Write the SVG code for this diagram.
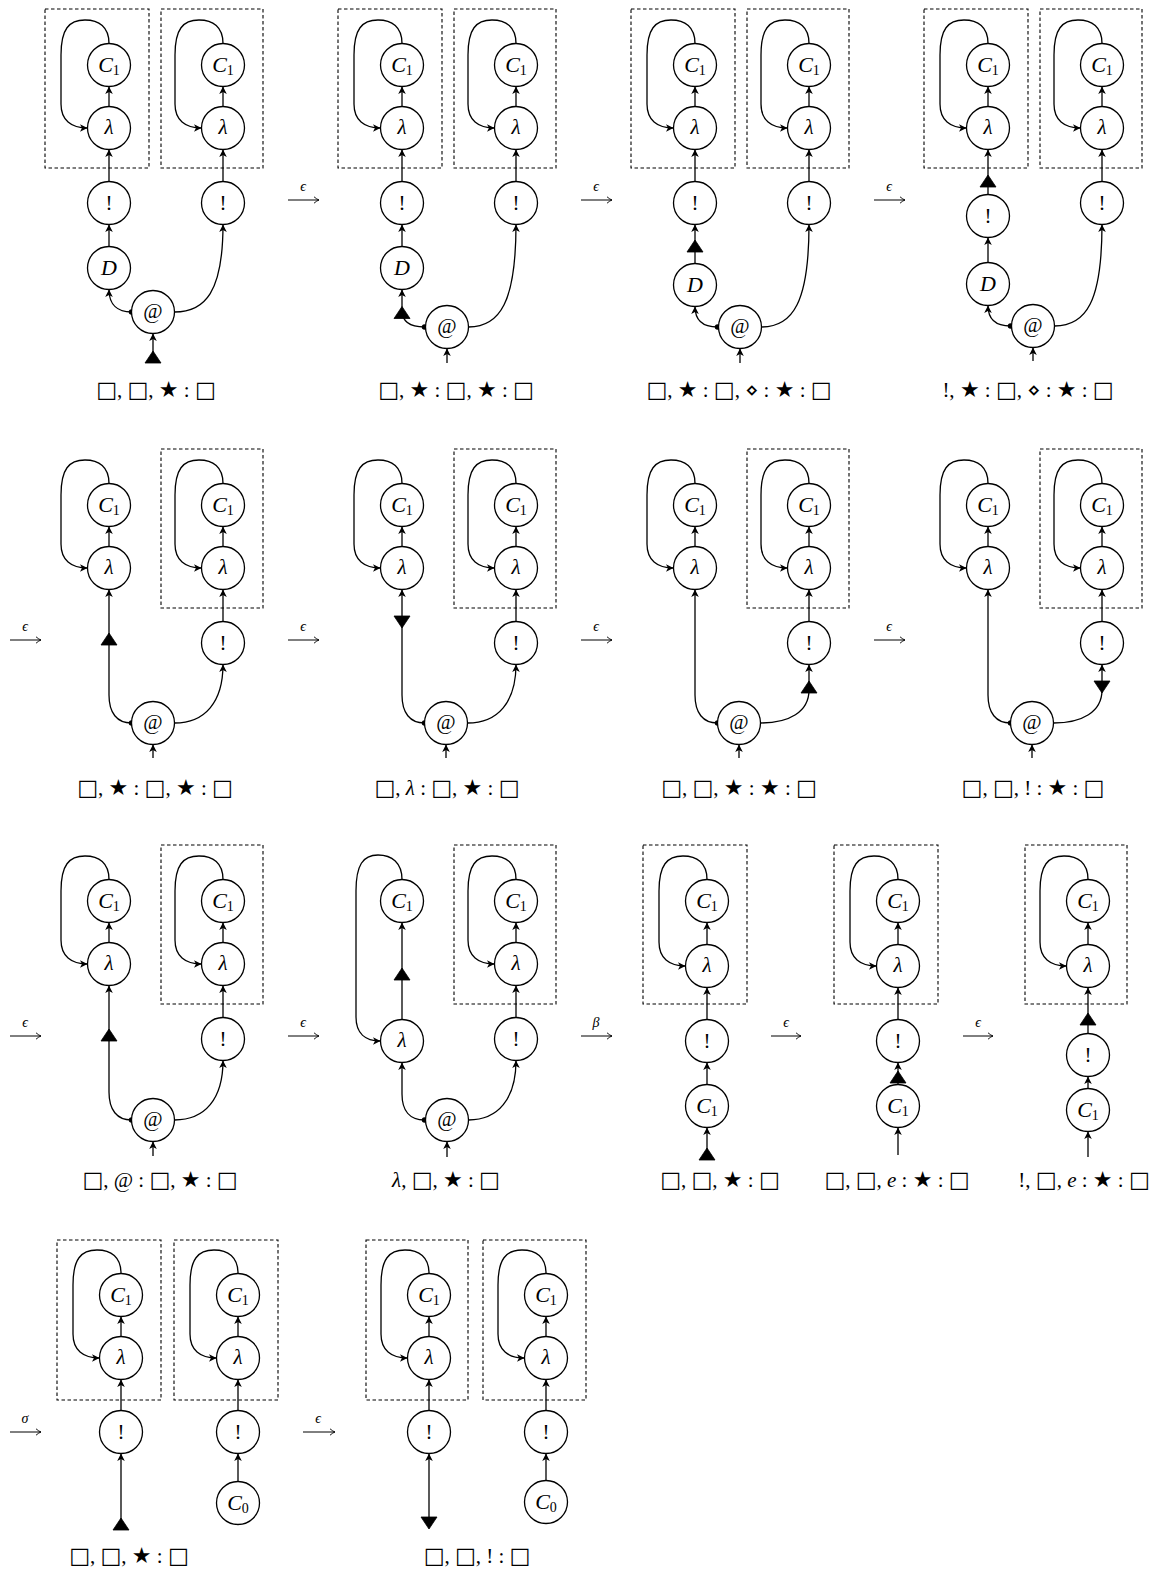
<svg xmlns="http://www.w3.org/2000/svg" width="1150" height="1572" viewBox="0 0 1150 1572">
<style>
.bg{fill:#fff}
.n{fill:#fff;stroke:#000;stroke-width:1.3}
.e{fill:none;stroke:#000;stroke-width:1.3;marker-end:url(#ah)}
.bx{fill:none;stroke:#000;stroke-width:1.1;stroke-dasharray:3.5 2.5}
.tri{fill:#000;stroke:#000;stroke-width:0.8;stroke-linejoin:round}
.dot{fill:#000}
.t{fill:none;stroke:#000;stroke-width:1;marker-end:url(#ta)}
.nt{font-family:"Liberation Serif","DejaVu Serif",serif;font-size:21px;text-anchor:middle;fill:#000}
.it{font-style:italic}
.cc{font-size:22px}
.sub{font-size:14px;font-style:normal}
.lb{font-family:"Liberation Serif","DejaVu Serif",serif;font-size:21px;text-anchor:middle;fill:#000}
.sy{font-family:"DejaVu Sans",sans-serif;font-size:22px}
.tl{font-family:"Liberation Serif","DejaVu Serif",serif;font-size:14px;font-style:italic;text-anchor:middle;fill:#000}
</style>
<defs>
<marker id="ah" viewBox="-9 -5 10 10" refX="0" refY="0" markerWidth="10" markerHeight="10" markerUnits="userSpaceOnUse" orient="auto"><path d="M0,0 L-7.5,-3.8 L-5.5,0 L-7.5,3.8 Z" fill="#000"/></marker>
<marker id="ta" viewBox="-7 -5 8 10" refX="0" refY="0" markerWidth="8" markerHeight="10" markerUnits="userSpaceOnUse" orient="auto"><path d="M-5,-3.2 Q-2,-0.6 0,0 Q-2,0.6 -5,3.2" fill="none" stroke="#000" stroke-width="0.9"/></marker>
</defs>
<rect class="bg" x="0" y="0" width="1150" height="1572"/>

<g id="transitions">
<path class="t" d="M288,200 H319"/><text class="tl" x="303" y="191">ϵ</text>
<path class="t" d="M581,200 H612"/><text class="tl" x="596" y="191">ϵ</text>
<path class="t" d="M874,200 H905"/><text class="tl" x="889" y="191">ϵ</text>
<path class="t" d="M10,640 H41"/><text class="tl" x="25" y="631">ϵ</text>
<path class="t" d="M288,640 H319"/><text class="tl" x="303" y="631">ϵ</text>
<path class="t" d="M581,640 H612"/><text class="tl" x="596" y="631">ϵ</text>
<path class="t" d="M874,640 H905"/><text class="tl" x="889" y="631">ϵ</text>
<path class="t" d="M10,1036 H41"/><text class="tl" x="25" y="1027">ϵ</text>
<path class="t" d="M288,1036 H319"/><text class="tl" x="303" y="1027">ϵ</text>
<path class="t" d="M581,1036 H612"/><text class="tl" x="596" y="1027">β</text>
<path class="t" d="M771,1036 H801"/><text class="tl" x="786" y="1027">ϵ</text>
<path class="t" d="M963,1036 H993"/><text class="tl" x="978" y="1027">ϵ</text>
<path class="t" d="M10,1432 H41"/><text class="tl" x="25" y="1423">σ</text>
<path class="t" d="M303,1432 H335"/><text class="tl" x="318" y="1423">ϵ</text>
</g>

<g id="r1p1">
<rect class="bx" x="45" y="9" width="104" height="159"/>
<rect class="bx" x="161" y="9" width="102" height="159"/>
<g id="r1p1-edges">
<path class="e" d="M109,43.5 C109,27 99,20 85,20 C69,20 61,29 61,55 L61,104 C61,120 71,128 87.5,128"/>
<path class="e" d="M223,43.5 C223,27 213,20 199,20 C183,20 175,29 175,55 L175,104 C175,120 185,128 201.5,128"/>
<path class="e" d="M109,106.5 V86.5"/><path class="e" d="M223,106.5 V86.5"/>
<path class="e" d="M109,181.5 V149.5"/><path class="e" d="M223,181.5 V149.5"/>
<path class="e" d="M109,246.5 V224.5"/>
<path class="e" d="M131.5,312 C118,312 109,305 109,289.5"/>
<path class="e" d="M174.5,312 C205,312 223,292 223,224.5"/>
<path class="e" d="M153,362 V333.5"/>
<circle class="dot" cx="131.5" cy="312" r="2.7"/>
<path class="tri" d="M153,351 L161,363 L145,363 Z"/>
</g>
<g id="r1p1-c1a"><circle class="n" cx="109" cy="65" r="21.5"/><text class="nt" x="109" y="72"><tspan class="it cc">C</tspan><tspan class="sub" dy="3">1</tspan></text></g>
<g id="r1p1-la"><circle class="n" cx="109" cy="128" r="21.5"/><text class="nt it" x="109" y="134">λ</text></g>
<g id="r1p1-ba"><circle class="n" cx="109" cy="203" r="21.5"/><text class="nt" x="109" y="210">!</text></g>
<g id="r1p1-d"><circle class="n" cx="109" cy="268" r="21.5"/><text class="nt it cc" x="109" y="275">D</text></g>
<g id="r1p1-at"><circle class="n" cx="153" cy="312" r="21.5"/><text class="nt" x="153" y="318" font-size="18">@</text></g>
<g id="r1p1-c1b"><circle class="n" cx="223" cy="65" r="21.5"/><text class="nt" x="223" y="72"><tspan class="it cc">C</tspan><tspan class="sub" dy="3">1</tspan></text></g>
<g id="r1p1-lb"><circle class="n" cx="223" cy="128" r="21.5"/><text class="nt it" x="223" y="134">λ</text></g>
<g id="r1p1-bb"><circle class="n" cx="223" cy="203" r="21.5"/><text class="nt" x="223" y="210">!</text></g>
<text class="lb" x="156" y="397"><tspan class="sy">□</tspan>, <tspan class="sy">□</tspan>, <tspan class="sy">★</tspan> : <tspan class="sy">□</tspan></text>
</g>

<g id="r1p2" transform="translate(293,0)">
<rect class="bx" x="45" y="9" width="104" height="159"/>
<rect class="bx" x="161" y="9" width="102" height="159"/>
<g id="r1p2-edges">
<path class="e" d="M109,43.5 C109,27 99,20 85,20 C69,20 61,29 61,55 L61,104 C61,120 71,128 87.5,128"/>
<path class="e" d="M223,43.5 C223,27 213,20 199,20 C183,20 175,29 175,55 L175,104 C175,120 185,128 201.5,128"/>
<path class="e" d="M109,106.5 V86.5"/><path class="e" d="M223,106.5 V86.5"/>
<path class="e" d="M109,181.5 V149.5"/><path class="e" d="M223,181.5 V149.5"/>
<path class="e" d="M109,246.5 V224.5"/>
<path class="e" d="M131.5,327 C117,327 109,321 109,310 V289.5"/>
<path class="e" d="M175.5,327 C207,327 223,302 223,224.5"/>
<path class="e" d="M154,363 V348.5"/>
<circle class="dot" cx="131.5" cy="327" r="2.7"/>
<path class="tri" d="M109,306.5 L117,318.5 L101,318.5 Z"/>
</g>
<g id="r1p2-c1a"><circle class="n" cx="109" cy="65" r="21.5"/><text class="nt" x="109" y="72"><tspan class="it cc">C</tspan><tspan class="sub" dy="3">1</tspan></text></g>
<g id="r1p2-la"><circle class="n" cx="109" cy="128" r="21.5"/><text class="nt it" x="109" y="134">λ</text></g>
<g id="r1p2-ba"><circle class="n" cx="109" cy="203" r="21.5"/><text class="nt" x="109" y="210">!</text></g>
<g id="r1p2-d"><circle class="n" cx="109" cy="268" r="21.5"/><text class="nt it cc" x="109" y="275">D</text></g>
<g id="r1p2-at"><circle class="n" cx="154" cy="327" r="21.5"/><text class="nt" x="154" y="333" font-size="18">@</text></g>
<g id="r1p2-c1b"><circle class="n" cx="223" cy="65" r="21.5"/><text class="nt" x="223" y="72"><tspan class="it cc">C</tspan><tspan class="sub" dy="3">1</tspan></text></g>
<g id="r1p2-lb"><circle class="n" cx="223" cy="128" r="21.5"/><text class="nt it" x="223" y="134">λ</text></g>
<g id="r1p2-bb"><circle class="n" cx="223" cy="203" r="21.5"/><text class="nt" x="223" y="210">!</text></g>
<text class="lb" x="163" y="397"><tspan class="sy">□</tspan>, <tspan class="sy">★</tspan> : <tspan class="sy">□</tspan>, <tspan class="sy">★</tspan> : <tspan class="sy">□</tspan></text>
</g>

<g id="r1p3" transform="translate(586,0)">
<rect class="bx" x="45" y="9" width="104" height="159"/>
<rect class="bx" x="161" y="9" width="102" height="159"/>
<g id="r1p3-edges">
<path class="e" d="M109,43.5 C109,27 99,20 85,20 C69,20 61,29 61,55 L61,104 C61,120 71,128 87.5,128"/>
<path class="e" d="M223,43.5 C223,27 213,20 199,20 C183,20 175,29 175,55 L175,104 C175,120 185,128 201.5,128"/>
<path class="e" d="M109,106.5 V86.5"/><path class="e" d="M223,106.5 V86.5"/>
<path class="e" d="M109,181.5 V149.5"/><path class="e" d="M223,181.5 V149.5"/>
<path class="e" d="M109,263.5 V224.5"/>
<path class="e" d="M131.5,327 C117,327 109,320 109,306.5"/>
<path class="e" d="M175.5,327 C207,327 223,302 223,224.5"/>
<path class="e" d="M154,363 V348.5"/>
<circle class="dot" cx="131.5" cy="327" r="2.7"/>
<path class="tri" d="M109,240 L117,252 L101,252 Z"/>
</g>
<g id="r1p3-c1a"><circle class="n" cx="109" cy="65" r="21.5"/><text class="nt" x="109" y="72"><tspan class="it cc">C</tspan><tspan class="sub" dy="3">1</tspan></text></g>
<g id="r1p3-la"><circle class="n" cx="109" cy="128" r="21.5"/><text class="nt it" x="109" y="134">λ</text></g>
<g id="r1p3-ba"><circle class="n" cx="109" cy="203" r="21.5"/><text class="nt" x="109" y="210">!</text></g>
<g id="r1p3-d"><circle class="n" cx="109" cy="285" r="21.5"/><text class="nt it cc" x="109" y="292">D</text></g>
<g id="r1p3-at"><circle class="n" cx="154" cy="327" r="21.5"/><text class="nt" x="154" y="333" font-size="18">@</text></g>
<g id="r1p3-c1b"><circle class="n" cx="223" cy="65" r="21.5"/><text class="nt" x="223" y="72"><tspan class="it cc">C</tspan><tspan class="sub" dy="3">1</tspan></text></g>
<g id="r1p3-lb"><circle class="n" cx="223" cy="128" r="21.5"/><text class="nt it" x="223" y="134">λ</text></g>
<g id="r1p3-bb"><circle class="n" cx="223" cy="203" r="21.5"/><text class="nt" x="223" y="210">!</text></g>
<text class="lb" x="153" y="397"><tspan class="sy">□</tspan>, <tspan class="sy">★</tspan> : <tspan class="sy">□</tspan>, ⋄ : <tspan class="sy">★</tspan> : <tspan class="sy">□</tspan></text>
</g>

<g id="r1p4" transform="translate(879,0)">
<rect class="bx" x="45" y="9" width="104" height="159"/>
<rect class="bx" x="161" y="9" width="102" height="159"/>
<g id="r1p4-edges">
<path class="e" d="M109,43.5 C109,27 99,20 85,20 C69,20 61,29 61,55 L61,104 C61,120 71,128 87.5,128"/>
<path class="e" d="M223,43.5 C223,27 213,20 199,20 C183,20 175,29 175,55 L175,104 C175,120 185,128 201.5,128"/>
<path class="e" d="M109,106.5 V86.5"/><path class="e" d="M223,106.5 V86.5"/>
<path class="e" d="M109,194.5 V149.5"/><path class="e" d="M223,181.5 V149.5"/>
<path class="e" d="M109,262.5 V237.5"/>
<path class="e" d="M131.5,326 C117,326 109,319 109,305.5"/>
<path class="e" d="M175.5,326 C207,326 223,302 223,224.5"/>
<path class="e" d="M154,361 V347.5"/>
<circle class="dot" cx="131.5" cy="326" r="2.7"/>
<path class="tri" d="M109,175 L117,187 L101,187 Z"/>
</g>
<g id="r1p4-c1a"><circle class="n" cx="109" cy="65" r="21.5"/><text class="nt" x="109" y="72"><tspan class="it cc">C</tspan><tspan class="sub" dy="3">1</tspan></text></g>
<g id="r1p4-la"><circle class="n" cx="109" cy="128" r="21.5"/><text class="nt it" x="109" y="134">λ</text></g>
<g id="r1p4-ba"><circle class="n" cx="109" cy="216" r="21.5"/><text class="nt" x="109" y="223">!</text></g>
<g id="r1p4-d"><circle class="n" cx="109" cy="284" r="21.5"/><text class="nt it cc" x="109" y="291">D</text></g>
<g id="r1p4-at"><circle class="n" cx="154" cy="326" r="21.5"/><text class="nt" x="154" y="332" font-size="18">@</text></g>
<g id="r1p4-c1b"><circle class="n" cx="223" cy="65" r="21.5"/><text class="nt" x="223" y="72"><tspan class="it cc">C</tspan><tspan class="sub" dy="3">1</tspan></text></g>
<g id="r1p4-lb"><circle class="n" cx="223" cy="128" r="21.5"/><text class="nt it" x="223" y="134">λ</text></g>
<g id="r1p4-bb"><circle class="n" cx="223" cy="203" r="21.5"/><text class="nt" x="223" y="210">!</text></g>
<text class="lb" x="149" y="397">!, <tspan class="sy">★</tspan> : <tspan class="sy">□</tspan>, ⋄ : <tspan class="sy">★</tspan> : <tspan class="sy">□</tspan></text>
</g>

<g id="r2p1" transform="translate(0,440)">
<rect class="bx" x="161" y="9" width="102" height="159"/>
<g id="r2p1-edges">
<path class="e" d="M109,43.5 C109,27 99,20 85,20 C69,20 61,29 61,55 L61,104 C61,120 71,128 87.5,128"/>
<path class="e" d="M223,43.5 C223,27 213,20 199,20 C183,20 175,29 175,55 L175,104 C175,120 185,128 201.5,128"/>
<path class="e" d="M109,106.5 V86.5"/><path class="e" d="M223,106.5 V86.5"/>
<path class="e" d="M223,181.5 V149.5"/>
<path class="e" d="M131.5,283 C117,283 109,273 109,255 V149.5"/>
<path class="e" d="M174.5,283 C205,283 223,262 223,224.5"/>
<path class="e" d="M153,318 V304.5"/>
<circle class="dot" cx="131.5" cy="283" r="2.7"/>
<path class="tri" d="M109,193 L117,205 L101,205 Z"/>
</g>
<g id="r2p1-c1a"><circle class="n" cx="109" cy="65" r="21.5"/><text class="nt" x="109" y="72"><tspan class="it cc">C</tspan><tspan class="sub" dy="3">1</tspan></text></g>
<g id="r2p1-la"><circle class="n" cx="109" cy="128" r="21.5"/><text class="nt it" x="109" y="134">λ</text></g>
<g id="r2p1-at"><circle class="n" cx="153" cy="283" r="21.5"/><text class="nt" x="153" y="289" font-size="18">@</text></g>
<g id="r2p1-c1b"><circle class="n" cx="223" cy="65" r="21.5"/><text class="nt" x="223" y="72"><tspan class="it cc">C</tspan><tspan class="sub" dy="3">1</tspan></text></g>
<g id="r2p1-lb"><circle class="n" cx="223" cy="128" r="21.5"/><text class="nt it" x="223" y="134">λ</text></g>
<g id="r2p1-bb"><circle class="n" cx="223" cy="203" r="21.5"/><text class="nt" x="223" y="210">!</text></g>
<text class="lb" x="155" y="355"><tspan class="sy">□</tspan>, <tspan class="sy">★</tspan> : <tspan class="sy">□</tspan>, <tspan class="sy">★</tspan> : <tspan class="sy">□</tspan></text>
</g>

<g id="r2p2" transform="translate(293,440)">
<rect class="bx" x="161" y="9" width="102" height="159"/>
<g id="r2p2-edges">
<path class="e" d="M109,43.5 C109,27 99,20 85,20 C69,20 61,29 61,55 L61,104 C61,120 71,128 87.5,128"/>
<path class="e" d="M223,43.5 C223,27 213,20 199,20 C183,20 175,29 175,55 L175,104 C175,120 185,128 201.5,128"/>
<path class="e" d="M109,106.5 V86.5"/><path class="e" d="M223,106.5 V86.5"/>
<path class="e" d="M223,181.5 V149.5"/>
<path class="e" d="M131.5,283 C117,283 109,273 109,255 V149.5"/>
<path class="e" d="M174.5,283 C205,283 223,262 223,224.5"/>
<path class="e" d="M153,318 V304.5"/>
<circle class="dot" cx="131.5" cy="283" r="2.7"/>
<path class="tri" d="M101,176 L117,176 L109,188 Z"/>
</g>
<g id="r2p2-c1a"><circle class="n" cx="109" cy="65" r="21.5"/><text class="nt" x="109" y="72"><tspan class="it cc">C</tspan><tspan class="sub" dy="3">1</tspan></text></g>
<g id="r2p2-la"><circle class="n" cx="109" cy="128" r="21.5"/><text class="nt it" x="109" y="134">λ</text></g>
<g id="r2p2-at"><circle class="n" cx="153" cy="283" r="21.5"/><text class="nt" x="153" y="289" font-size="18">@</text></g>
<g id="r2p2-c1b"><circle class="n" cx="223" cy="65" r="21.5"/><text class="nt" x="223" y="72"><tspan class="it cc">C</tspan><tspan class="sub" dy="3">1</tspan></text></g>
<g id="r2p2-lb"><circle class="n" cx="223" cy="128" r="21.5"/><text class="nt it" x="223" y="134">λ</text></g>
<g id="r2p2-bb"><circle class="n" cx="223" cy="203" r="21.5"/><text class="nt" x="223" y="210">!</text></g>
<text class="lb" x="154" y="355"><tspan class="sy">□</tspan>, <tspan class="it">λ</tspan> : <tspan class="sy">□</tspan>, <tspan class="sy">★</tspan> : <tspan class="sy">□</tspan></text>
</g>

<g id="r2p3" transform="translate(586,440)">
<rect class="bx" x="161" y="9" width="102" height="159"/>
<g id="r2p3-edges">
<path class="e" d="M109,43.5 C109,27 99,20 85,20 C69,20 61,29 61,55 L61,104 C61,120 71,128 87.5,128"/>
<path class="e" d="M223,43.5 C223,27 213,20 199,20 C183,20 175,29 175,55 L175,104 C175,120 185,128 201.5,128"/>
<path class="e" d="M109,106.5 V86.5"/><path class="e" d="M223,106.5 V86.5"/>
<path class="e" d="M223,181.5 V149.5"/>
<path class="e" d="M131.5,283 C117,283 109,273 109,255 V149.5"/>
<path class="e" d="M174.5,283 C203,283 223,272 223,250 V224.5"/>
<path class="e" d="M153,318 V304.5"/>
<circle class="dot" cx="131.5" cy="283" r="2.7"/>
<path class="tri" d="M223,241 L231,253 L215,253 Z"/>
</g>
<g id="r2p3-c1a"><circle class="n" cx="109" cy="65" r="21.5"/><text class="nt" x="109" y="72"><tspan class="it cc">C</tspan><tspan class="sub" dy="3">1</tspan></text></g>
<g id="r2p3-la"><circle class="n" cx="109" cy="128" r="21.5"/><text class="nt it" x="109" y="134">λ</text></g>
<g id="r2p3-at"><circle class="n" cx="153" cy="283" r="21.5"/><text class="nt" x="153" y="289" font-size="18">@</text></g>
<g id="r2p3-c1b"><circle class="n" cx="223" cy="65" r="21.5"/><text class="nt" x="223" y="72"><tspan class="it cc">C</tspan><tspan class="sub" dy="3">1</tspan></text></g>
<g id="r2p3-lb"><circle class="n" cx="223" cy="128" r="21.5"/><text class="nt it" x="223" y="134">λ</text></g>
<g id="r2p3-bb"><circle class="n" cx="223" cy="203" r="21.5"/><text class="nt" x="223" y="210">!</text></g>
<text class="lb" x="153" y="355"><tspan class="sy">□</tspan>, <tspan class="sy">□</tspan>, <tspan class="sy">★</tspan> : <tspan class="sy">★</tspan> : <tspan class="sy">□</tspan></text>
</g>

<g id="r2p4" transform="translate(879,440)">
<rect class="bx" x="161" y="9" width="102" height="159"/>
<g id="r2p4-edges">
<path class="e" d="M109,43.5 C109,27 99,20 85,20 C69,20 61,29 61,55 L61,104 C61,120 71,128 87.5,128"/>
<path class="e" d="M223,43.5 C223,27 213,20 199,20 C183,20 175,29 175,55 L175,104 C175,120 185,128 201.5,128"/>
<path class="e" d="M109,106.5 V86.5"/><path class="e" d="M223,106.5 V86.5"/>
<path class="e" d="M223,181.5 V149.5"/>
<path class="e" d="M131.5,283 C117,283 109,273 109,255 V149.5"/>
<path class="e" d="M174.5,283 C203,283 223,272 223,250 V224.5"/>
<path class="e" d="M153,318 V304.5"/>
<circle class="dot" cx="131.5" cy="283" r="2.7"/>
<path class="tri" d="M215,241 L231,241 L223,253 Z"/>
</g>
<g id="r2p4-c1a"><circle class="n" cx="109" cy="65" r="21.5"/><text class="nt" x="109" y="72"><tspan class="it cc">C</tspan><tspan class="sub" dy="3">1</tspan></text></g>
<g id="r2p4-la"><circle class="n" cx="109" cy="128" r="21.5"/><text class="nt it" x="109" y="134">λ</text></g>
<g id="r2p4-at"><circle class="n" cx="153" cy="283" r="21.5"/><text class="nt" x="153" y="289" font-size="18">@</text></g>
<g id="r2p4-c1b"><circle class="n" cx="223" cy="65" r="21.5"/><text class="nt" x="223" y="72"><tspan class="it cc">C</tspan><tspan class="sub" dy="3">1</tspan></text></g>
<g id="r2p4-lb"><circle class="n" cx="223" cy="128" r="21.5"/><text class="nt it" x="223" y="134">λ</text></g>
<g id="r2p4-bb"><circle class="n" cx="223" cy="203" r="21.5"/><text class="nt" x="223" y="210">!</text></g>
<text class="lb" x="154" y="355"><tspan class="sy">□</tspan>, <tspan class="sy">□</tspan>, ! : <tspan class="sy">★</tspan> : <tspan class="sy">□</tspan></text>
</g>

<g id="r3p1" transform="translate(0,836)">
<rect class="bx" x="161" y="9" width="102" height="159"/>
<g id="r3p1-edges">
<path class="e" d="M109,43.5 C109,27 99,20 85,20 C69,20 61,29 61,55 L61,104 C61,120 71,128 87.5,128"/>
<path class="e" d="M223,43.5 C223,27 213,20 199,20 C183,20 175,29 175,55 L175,104 C175,120 185,128 201.5,128"/>
<path class="e" d="M109,106.5 V86.5"/><path class="e" d="M223,106.5 V86.5"/>
<path class="e" d="M223,181.5 V149.5"/>
<path class="e" d="M131.5,284 C117,284 109,274 109,256 V149.5"/>
<path class="e" d="M174.5,284 C205,284 223,263 223,224.5"/>
<path class="e" d="M153,320 V305.5"/>
<circle class="dot" cx="131.5" cy="284" r="2.7"/>
<path class="tri" d="M109,193 L117,205 L101,205 Z"/>
</g>
<g id="r3p1-c1a"><circle class="n" cx="109" cy="65" r="21.5"/><text class="nt" x="109" y="72"><tspan class="it cc">C</tspan><tspan class="sub" dy="3">1</tspan></text></g>
<g id="r3p1-la"><circle class="n" cx="109" cy="128" r="21.5"/><text class="nt it" x="109" y="134">λ</text></g>
<g id="r3p1-at"><circle class="n" cx="153" cy="284" r="21.5"/><text class="nt" x="153" y="290" font-size="18">@</text></g>
<g id="r3p1-c1b"><circle class="n" cx="223" cy="65" r="21.5"/><text class="nt" x="223" y="72"><tspan class="it cc">C</tspan><tspan class="sub" dy="3">1</tspan></text></g>
<g id="r3p1-lb"><circle class="n" cx="223" cy="128" r="21.5"/><text class="nt it" x="223" y="134">λ</text></g>
<g id="r3p1-bb"><circle class="n" cx="223" cy="203" r="21.5"/><text class="nt" x="223" y="210">!</text></g>
<text class="lb" x="160" y="351"><tspan class="sy">□</tspan>, @ : <tspan class="sy">□</tspan>, <tspan class="sy">★</tspan> : <tspan class="sy">□</tspan></text>
</g>

<g id="r3p2" transform="translate(293,836)">
<rect class="bx" x="161" y="9" width="102" height="159"/>
<g id="r3p2-edges">
<path class="e" d="M109,43.5 C109,27 99,19 85,19 C70,19 63,29 63,55 L63,181 C63,197 72,205 87.5,205"/>
<path class="e" d="M223,43.5 C223,27 213,20 199,20 C183,20 175,29 175,55 L175,104 C175,120 185,128 201.5,128"/>
<path class="e" d="M109,183.5 V86.5"/><path class="e" d="M223,106.5 V86.5"/>
<path class="e" d="M223,181.5 V149.5"/>
<path class="e" d="M131.5,284 C117,284 109,275 109,258 V226.5"/>
<path class="e" d="M175.5,284 C205,284 223,263 223,224.5"/>
<path class="e" d="M154,321 V305.5"/>
<circle class="dot" cx="131.5" cy="284" r="2.7"/>
<path class="tri" d="M109,132 L117,144 L101,144 Z"/>
</g>
<g id="r3p2-c1a"><circle class="n" cx="109" cy="65" r="21.5"/><text class="nt" x="109" y="72"><tspan class="it cc">C</tspan><tspan class="sub" dy="3">1</tspan></text></g>
<g id="r3p2-la"><circle class="n" cx="109" cy="205" r="21.5"/><text class="nt it" x="109" y="211">λ</text></g>
<g id="r3p2-at"><circle class="n" cx="154" cy="284" r="21.5"/><text class="nt" x="154" y="290" font-size="18">@</text></g>
<g id="r3p2-c1b"><circle class="n" cx="223" cy="65" r="21.5"/><text class="nt" x="223" y="72"><tspan class="it cc">C</tspan><tspan class="sub" dy="3">1</tspan></text></g>
<g id="r3p2-lb"><circle class="n" cx="223" cy="128" r="21.5"/><text class="nt it" x="223" y="134">λ</text></g>
<g id="r3p2-bb"><circle class="n" cx="223" cy="203" r="21.5"/><text class="nt" x="223" y="210">!</text></g>
<text class="lb" x="153" y="351"><tspan class="it">λ</tspan>, <tspan class="sy">□</tspan>, <tspan class="sy">★</tspan> : <tspan class="sy">□</tspan></text>
</g>

<g id="r3p3">
<rect class="bx" x="643" y="845" width="104" height="159"/>
<g id="r3p3-edges">
<path class="e" d="M707,879.5 C707,863 697,856 683,856 C667,856 659,865 659,891 L659,942 C659,958 669,966 685.5,966"/>
<path class="e" d="M707,944.5 V922.5"/>
<path class="e" d="M707,1019.5 V987.5"/>
<path class="e" d="M707,1084.5 V1062.5"/>
<path class="e" d="M707,1160 V1127.5"/>
<path class="tri" d="M707,1148 L715,1160 L699,1160 Z"/>
</g>
<g id="r3p3-c1"><circle class="n" cx="707" cy="901" r="21.5"/><text class="nt" x="707" y="908"><tspan class="it cc">C</tspan><tspan class="sub" dy="3">1</tspan></text></g>
<g id="r3p3-l"><circle class="n" cx="707" cy="966" r="21.5"/><text class="nt it" x="707" y="972">λ</text></g>
<g id="r3p3-b"><circle class="n" cx="707" cy="1041" r="21.5"/><text class="nt" x="707" y="1048">!</text></g>
<g id="r3p3-c1l"><circle class="n" cx="707" cy="1106" r="21.5"/><text class="nt" x="707" y="1113"><tspan class="it cc">C</tspan><tspan class="sub" dy="3">1</tspan></text></g>
<text class="lb" x="720" y="1187"><tspan class="sy">□</tspan>, <tspan class="sy">□</tspan>, <tspan class="sy">★</tspan> : <tspan class="sy">□</tspan></text>
</g>

<g id="r3p4">
<rect class="bx" x="834" y="845" width="104" height="159"/>
<g id="r3p4-edges">
<path class="e" d="M898,879.5 C898,863 888,856 874,856 C858,856 850,865 850,891 L850,942 C850,958 860,966 876.5,966"/>
<path class="e" d="M898,944.5 V922.5"/>
<path class="e" d="M898,1019.5 V987.5"/>
<path class="e" d="M898,1084.5 V1062.5"/>
<path class="e" d="M898,1155 V1127.5"/>
<path class="tri" d="M898,1071 L906,1083 L890,1083 Z"/>
</g>
<g id="r3p4-c1"><circle class="n" cx="898" cy="901" r="21.5"/><text class="nt" x="898" y="908"><tspan class="it cc">C</tspan><tspan class="sub" dy="3">1</tspan></text></g>
<g id="r3p4-l"><circle class="n" cx="898" cy="966" r="21.5"/><text class="nt it" x="898" y="972">λ</text></g>
<g id="r3p4-b"><circle class="n" cx="898" cy="1041" r="21.5"/><text class="nt" x="898" y="1048">!</text></g>
<g id="r3p4-c1l"><circle class="n" cx="898" cy="1106" r="21.5"/><text class="nt" x="898" y="1113"><tspan class="it cc">C</tspan><tspan class="sub" dy="3">1</tspan></text></g>
<text class="lb" x="897" y="1187"><tspan class="sy">□</tspan>, <tspan class="sy">□</tspan>, <tspan class="it">e</tspan> : <tspan class="sy">★</tspan> : <tspan class="sy">□</tspan></text>
</g>

<g id="r3p5">
<rect class="bx" x="1025" y="845" width="102" height="159"/>
<g id="r3p5-edges">
<path class="e" d="M1088,879.5 C1088,863 1078,856 1064,856 C1048,856 1040,865 1040,891 L1040,942 C1040,958 1050,966 1066.5,966"/>
<path class="e" d="M1088,944.5 V922.5"/>
<path class="e" d="M1088,1033.5 V987.5"/>
<path class="e" d="M1088,1088.5 V1076.5"/>
<path class="e" d="M1088,1157 V1131.5"/>
<path class="tri" d="M1088,1013 L1096,1025 L1080,1025 Z"/>
</g>
<g id="r3p5-c1"><circle class="n" cx="1088" cy="901" r="21.5"/><text class="nt" x="1088" y="908"><tspan class="it cc">C</tspan><tspan class="sub" dy="3">1</tspan></text></g>
<g id="r3p5-l"><circle class="n" cx="1088" cy="966" r="21.5"/><text class="nt it" x="1088" y="972">λ</text></g>
<g id="r3p5-b"><circle class="n" cx="1088" cy="1055" r="21.5"/><text class="nt" x="1088" y="1062">!</text></g>
<g id="r3p5-c1l"><circle class="n" cx="1088" cy="1110" r="21.5"/><text class="nt" x="1088" y="1117"><tspan class="it cc">C</tspan><tspan class="sub" dy="3">1</tspan></text></g>
<text class="lb" x="1084" y="1187">!, <tspan class="sy">□</tspan>, <tspan class="it">e</tspan> : <tspan class="sy">★</tspan> : <tspan class="sy">□</tspan></text>
</g>

<g id="r4p1">
<rect class="bx" x="57" y="1240" width="104" height="160"/>
<rect class="bx" x="174" y="1240" width="104" height="160"/>
<g id="r4p1-edges">
<path class="e" d="M121,1273.5 C121,1257 111,1250 97,1250 C81,1250 73,1259 73,1285 L73,1334 C73,1350 83,1358 99.5,1358"/>
<path class="e" d="M238,1273.5 C238,1257 228,1250 214,1250 C198,1250 190,1259 190,1285 L190,1334 C190,1350 200,1358 216.5,1358"/>
<path class="e" d="M121,1336.5 V1316.5"/><path class="e" d="M238,1336.5 V1316.5"/>
<path class="e" d="M121,1410.5 V1379.5"/><path class="e" d="M238,1410.5 V1379.5"/>
<path class="e" d="M238,1481.5 V1453.5"/>
<path class="e" d="M121,1530 V1453.5"/>
<path class="tri" d="M121,1518 L129,1530 L113,1530 Z"/>
</g>
<g id="r4p1-c1a"><circle class="n" cx="121" cy="1295" r="21.5"/><text class="nt" x="121" y="1302"><tspan class="it cc">C</tspan><tspan class="sub" dy="3">1</tspan></text></g>
<g id="r4p1-la"><circle class="n" cx="121" cy="1358" r="21.5"/><text class="nt it" x="121" y="1364">λ</text></g>
<g id="r4p1-ba"><circle class="n" cx="121" cy="1432" r="21.5"/><text class="nt" x="121" y="1439">!</text></g>
<g id="r4p1-c1b"><circle class="n" cx="238" cy="1295" r="21.5"/><text class="nt" x="238" y="1302"><tspan class="it cc">C</tspan><tspan class="sub" dy="3">1</tspan></text></g>
<g id="r4p1-lb"><circle class="n" cx="238" cy="1358" r="21.5"/><text class="nt it" x="238" y="1364">λ</text></g>
<g id="r4p1-bb"><circle class="n" cx="238" cy="1432" r="21.5"/><text class="nt" x="238" y="1439">!</text></g>
<g id="r4p1-c0"><circle class="n" cx="238" cy="1503" r="21.5"/><text class="nt" x="238" y="1510"><tspan class="it cc">C</tspan><tspan class="sub" dy="3">0</tspan></text></g>
<text class="lb" x="129" y="1563"><tspan class="sy">□</tspan>, <tspan class="sy">□</tspan>, <tspan class="sy">★</tspan> : <tspan class="sy">□</tspan></text>
</g>

<g id="r4p2">
<rect class="bx" x="366" y="1240" width="102" height="160"/>
<rect class="bx" x="483" y="1240" width="103" height="160"/>
<g id="r4p2-edges">
<path class="e" d="M429,1273.5 C429,1257 419,1250 405,1250 C389,1250 381,1259 381,1285 L381,1334 C381,1350 391,1358 407.5,1358"/>
<path class="e" d="M546,1273.5 C546,1257 536,1250 522,1250 C506,1250 498,1259 498,1285 L498,1334 C498,1350 508,1358 524.5,1358"/>
<path class="e" d="M429,1336.5 V1316.5"/><path class="e" d="M546,1336.5 V1316.5"/>
<path class="e" d="M429,1410.5 V1379.5"/><path class="e" d="M546,1410.5 V1379.5"/>
<path class="e" d="M546,1480.5 V1453.5"/>
<path class="e" d="M429,1517 V1453.5"/>
<path class="tri" d="M421,1517 L437,1517 L429,1529 Z"/>
</g>
<g id="r4p2-c1a"><circle class="n" cx="429" cy="1295" r="21.5"/><text class="nt" x="429" y="1302"><tspan class="it cc">C</tspan><tspan class="sub" dy="3">1</tspan></text></g>
<g id="r4p2-la"><circle class="n" cx="429" cy="1358" r="21.5"/><text class="nt it" x="429" y="1364">λ</text></g>
<g id="r4p2-ba"><circle class="n" cx="429" cy="1432" r="21.5"/><text class="nt" x="429" y="1439">!</text></g>
<g id="r4p2-c1b"><circle class="n" cx="546" cy="1295" r="21.5"/><text class="nt" x="546" y="1302"><tspan class="it cc">C</tspan><tspan class="sub" dy="3">1</tspan></text></g>
<g id="r4p2-lb"><circle class="n" cx="546" cy="1358" r="21.5"/><text class="nt it" x="546" y="1364">λ</text></g>
<g id="r4p2-bb"><circle class="n" cx="546" cy="1432" r="21.5"/><text class="nt" x="546" y="1439">!</text></g>
<g id="r4p2-c0"><circle class="n" cx="546" cy="1502" r="21.5"/><text class="nt" x="546" y="1509"><tspan class="it cc">C</tspan><tspan class="sub" dy="3">0</tspan></text></g>
<text class="lb" x="477" y="1563"><tspan class="sy">□</tspan>, <tspan class="sy">□</tspan>, ! : <tspan class="sy">□</tspan></text>
</g>
</svg>
